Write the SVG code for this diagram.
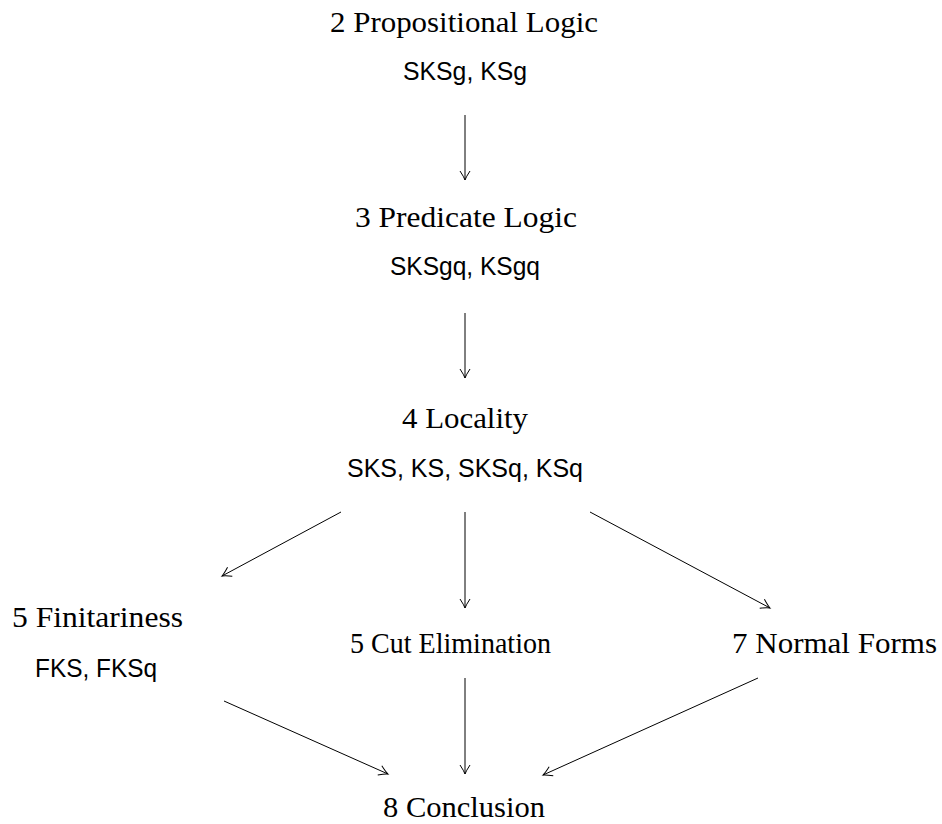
<svg xmlns="http://www.w3.org/2000/svg" width="942" height="824" viewBox="0 0 942 824">
<style>
.t{font-family:"Liberation Serif","Times New Roman",serif;font-size:29px;fill:#000}
.s{font-family:"Liberation Sans",Arial,sans-serif;font-size:25.5px;fill:#000}
.e{stroke:#000;stroke-width:1;fill:none;marker-end:url(#to)}
</style>
<defs>
<marker id="to" markerUnits="userSpaceOnUse" markerWidth="14" markerHeight="14" viewBox="-10 -7 12 14" refX="0" refY="0" orient="auto">
<path d="M-9,-5 Q-3,-1 0,0 Q-3,1 -9,5" stroke="#000" stroke-width="1" fill="none"/>
</marker>
</defs>
<rect width="942" height="824" fill="#fff"/>
<g id="n2">
<text class="t" x="330" y="32" textLength="268" lengthAdjust="spacingAndGlyphs">2 Propositional Logic</text>
<text class="s" x="403" y="80" textLength="124" lengthAdjust="spacingAndGlyphs">SKSg, KSg</text>
</g>
<g id="n3">
<text class="t" x="355" y="227" textLength="222" lengthAdjust="spacingAndGlyphs">3 Predicate Logic</text>
<text class="s" x="390" y="275" textLength="150" lengthAdjust="spacingAndGlyphs">SKSgq, KSgq</text>
</g>
<g id="n4">
<text class="t" x="402" y="428" textLength="126" lengthAdjust="spacingAndGlyphs">4 Locality</text>
<text class="s" x="347" y="477" textLength="236" lengthAdjust="spacingAndGlyphs">SKS, KS, SKSq, KSq</text>
</g>
<g id="n5f">
<text class="t" x="12" y="627" textLength="171" lengthAdjust="spacingAndGlyphs">5 Finitariness</text>
<text class="s" x="35" y="677" textLength="122" lengthAdjust="spacingAndGlyphs">FKS, FKSq</text>
</g>
<g id="n5c">
<text class="t" x="350" y="653" textLength="201" lengthAdjust="spacingAndGlyphs">5 Cut Elimination</text>
</g>
<g id="n7">
<text class="t" x="732" y="653" textLength="205" lengthAdjust="spacingAndGlyphs">7 Normal Forms</text>
</g>
<g id="n8">
<text class="t" x="383" y="817" textLength="162" lengthAdjust="spacingAndGlyphs">8 Conclusion</text>
</g>
<g id="connectors">
<path class="e" d="M465,115 L465,180"/>
<path class="e" d="M465,313 L465,378"/>
<path class="e" d="M341,512 L222,576"/>
<path class="e" d="M465,512 L465,608"/>
<path class="e" d="M590,512 L770,608"/>
<path class="e" d="M224,701 L388,774"/>
<path class="e" d="M465,678 L465,774"/>
<path class="e" d="M758,678 L543,775"/>
</g>
</svg>
